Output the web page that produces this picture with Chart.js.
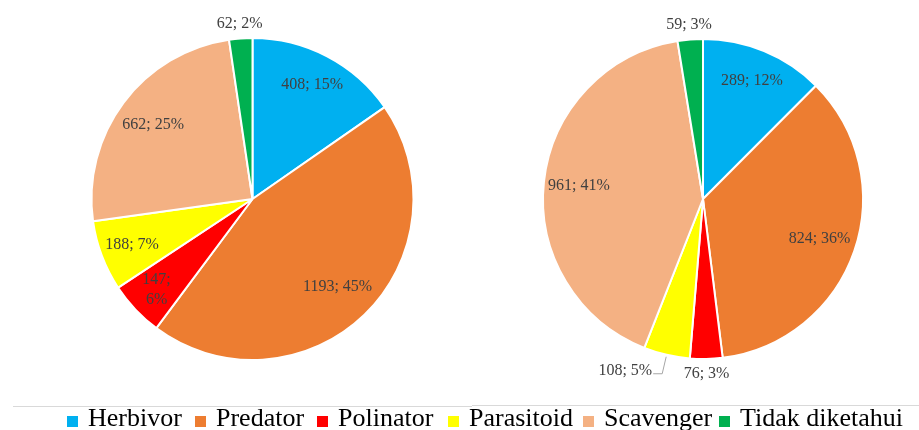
<!DOCTYPE html>
<html>
<head>
<meta charset="utf-8">
<script src="https://cdn.jsdelivr.net/npm/chart.js@4.4.0/dist/chart.umd.min.js"></script>
<style>
    html, body {
        margin: 0;
        padding: 0;
        background: #ffffff;
        width: 919px;
        height: 430px;
        overflow: hidden;
        position: relative;
        font-family: "Liberation Serif", "DejaVu Serif", serif;
    }
    canvas {
        position: absolute;
        top: 0;
    }
    #leftPie { left: 0; }
    #rightPie { left: 487px; }
    .rule {
        position: absolute;
        height: 1px;
        background: #d9d9d9;
    }
    .legend-item {
        position: absolute;
        top: 405px;
        height: 26px;
        line-height: 26px;
        font-size: 26px;
        color: #000000;
        white-space: nowrap;
    }
    .legend-item .swatch {
        position: absolute;
        left: 0;
        top: 11px;
        width: 11px;
        height: 11px;
    }
    .legend-item .text {
        position: absolute;
        left: 21px;
        white-space: nowrap;
    }
</style>
</head>
<body>
<canvas id="leftPie" width="505" height="398"></canvas>
<canvas id="rightPie" width="432" height="398"></canvas>
<div class="rule" style="left:13px; width:459px; top:406px;"></div>
<div class="rule" style="left:472px; width:447px; top:405px;"></div>
<div id="legend"></div>

<script>
// Feeding guilds
const categories = ['Herbivor', 'Predator', 'Polinator', 'Parasitoid', 'Scavenger', 'Tidak diketahui'];
const colors = ['#00B0F0', '#ED7D31', '#FF0000', '#FFFF00', '#F4B183', '#00B050'];

// Individual counts per guild
const leftValues = [408, 1193, 147, 188, 662, 62];
const rightValues = [289, 824, 76, 108, 961, 59];

// How each slice label is placed
const leftPlacement = [
    { mode: 'in', f: 0.80 },
    { mode: 'in', f: 0.76 },
    { mode: 'in', f: 0.82, wrap: true },
    { mode: 'in', f: 0.80 },
    { mode: 'in', f: 0.77 },
    { mode: 'out' }
];
const rightPlacement = [
    { mode: 'in', f: 0.80 },
    { mode: 'in', f: 0.77 },
    { mode: 'out' },
    { mode: 'leader' },
    { mode: 'in', f: 0.78 },
    { mode: 'out' }
];

// Legend item x positions
const legendX = [67, 195, 317, 448, 583, 719];

/**
 * Draw "value; pct%" labels for every slice
 */
const sliceLabels = {
    id: 'sliceLabels',
    afterDatasetsDraw(chart, args, opts) {
        const ctx = chart.ctx;
        const data = chart.data.datasets[0].data;
        const total = data.reduce((a, b) => a + b, 0);
        const meta = chart.getDatasetMeta(0);

        ctx.save();
        ctx.font = '16px "Liberation Serif", serif';
        ctx.fillStyle = '#404040';
        ctx.textBaseline = 'middle';

        meta.data.forEach((arc, i) => {
            const p = arc.getProps(['x', 'y', 'startAngle', 'endAngle', 'outerRadius'], true);
            const mid = (p.startAngle + p.endAngle) / 2;
            const pct = Math.round(data[i] / total * 100);
            const place = opts.placement[i];
            const text = `${data[i]}; ${pct}%`;

            if (place.mode === 'in') {
                const r = p.outerRadius * place.f;
                const x = p.x + Math.cos(mid) * r;
                const y = p.y + Math.sin(mid) * r;
                ctx.textAlign = 'center';
                if (place.wrap) {
                    ctx.fillText(`${data[i]};`, x, y - 10);
                    ctx.fillText(`${pct}%`, x, y + 10);
                } else {
                    ctx.fillText(text, x, y);
                }
            } else if (place.mode === 'out') {
                const r = p.outerRadius + 15;
                ctx.textAlign = 'center';
                ctx.fillText(text, p.x + Math.cos(mid) * r, p.y + Math.sin(mid) * r);
            } else {
                // leader line from slice edge down and to the left
                const ex = p.x + Math.cos(mid) * (p.outerRadius + 2);
                const ey = p.y + Math.sin(mid) * (p.outerRadius + 2);
                const kx = ex - 4;
                const ky = ey + 17;
                ctx.strokeStyle = '#a6a6a6';
                ctx.lineWidth = 1;
                ctx.beginPath();
                ctx.moveTo(ex, ey);
                ctx.lineTo(kx, ky);
                ctx.lineTo(kx - 9, ky);
                ctx.stroke();
                ctx.textAlign = 'right';
                ctx.fillText(text, kx - 10, ky - 3);
            }
        });
        ctx.restore();
    }
};

function makePie(id, values, radius, placement) {
    const ctx = document.getElementById(id).getContext('2d');
    return new Chart(ctx, {
        type: 'pie',
        data: {
            labels: categories,
            datasets: [{
                data: values,
                backgroundColor: colors,
                borderColor: '#ffffff',
                borderWidth: 2
            }]
        },
        options: {
            responsive: false,
            animation: false,
            radius: radius,
            layout: { padding: 0 },
            plugins: {
                legend: { display: false },
                tooltip: { enabled: false },
                sliceLabels: { placement: placement }
            }
        },
        plugins: [sliceLabels]
    });
}

makePie('leftPie', leftValues, 161, leftPlacement);
makePie('rightPie', rightValues, 160, rightPlacement);

// Shared legend along the bottom
const legend = document.getElementById('legend');
categories.forEach((name, i) => {
    const item = document.createElement('div');
    item.className = 'legend-item';
    item.style.left = legendX[i] + 'px';
    item.innerHTML = `<span class="swatch" style="background:${colors[i]}"></span>` +
        `<span class="text">${name}</span>`;
    legend.appendChild(item);
});
</script>
</body>
</html>
